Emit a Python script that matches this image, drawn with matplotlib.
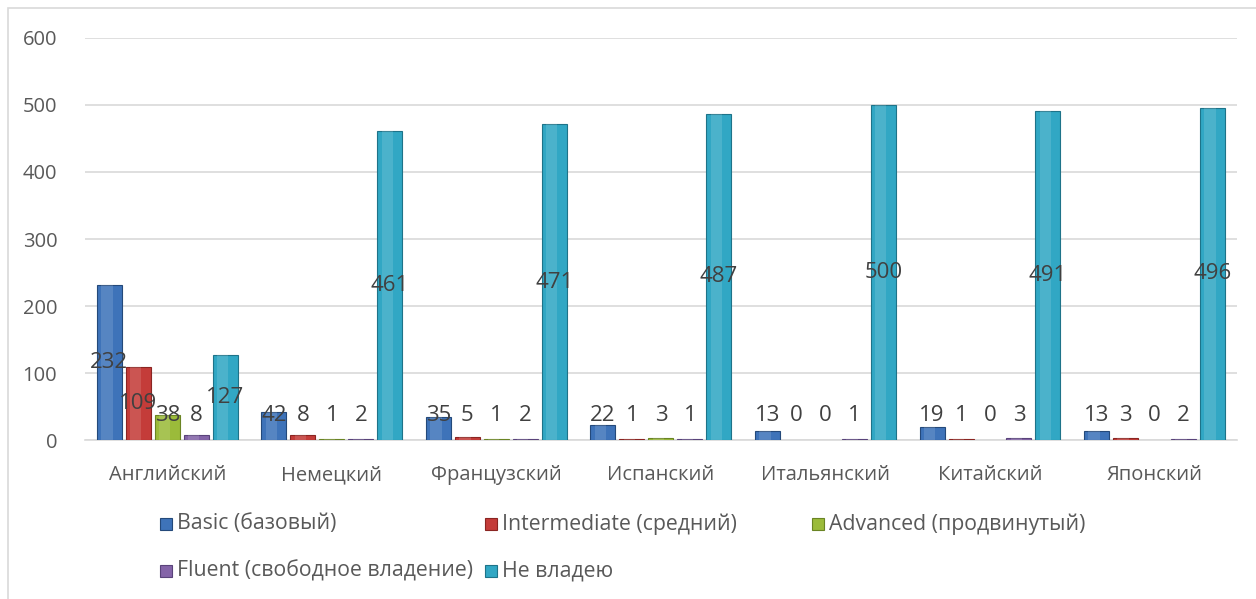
import matplotlib
matplotlib.use("Agg")
import matplotlib.pyplot as plt
import numpy as np
from matplotlib.patches import Rectangle

categories = ["Английский", "Немецкий", "Французский", "Испанский", "Итальянский", "Китайский", "Японский"]
series_names = ["Basic (базовый)", "Intermediate (средний)", "Advanced (продвинутый)",
                "Fluent (свободное владение)", "Не владею"]
basic = [232, 42, 35, 22, 13, 19, 13]
intermediate = [109, 8, 5, 1, 0, 1, 3]
advanced = [38, 1, 1, 3, 0, 0, 0]
fluent = [8, 2, 2, 1, 1, 3, 2]
no_skill = [127, 461, 471, 487, 500, 491, 496]
yticks = [0, 100, 200, 300, 400, 500, 600]

series = [basic, intermediate, advanced, fluent, no_skill]
colors = ["#3E73B9", "#C43C39", "#9BBB3A", "#8464A8", "#31A7C4"]
edges = ["#24497A", "#8A2522", "#6A8424", "#59437A", "#1E7389"]

plt.rcParams['font.family'] = ['Open Sans', 'DejaVu Sans']

W, H = 1256, 599
fig = plt.figure(figsize=(W / 100, H / 100), dpi=100)
ax = fig.add_axes([0.0677, 0.2654, 0.917, 0.6712])

# figure border
fig.patches.append(Rectangle((0.006, -0.01), 0.995, 0.997, transform=fig.transFigure,
                             fill=False, edgecolor="#D9D9D9", linewidth=1.2))

x = np.arange(len(categories))
step = 0.176
width = 0.152
for i, (vals, c, e) in enumerate(zip(series, colors, edges)):
    pos = x + (i - 2) * step
    ecs = [e if v > 0 else "none" for v in vals]
    ax.bar(pos, vals, width=width, color=c, edgecolor=ecs, linewidth=0.8, zorder=3)
    # lighter highlight strip
    ax.bar(pos - width * 0.1, vals, width=width * 0.45, color="white", alpha=0.13,
           linewidth=0, zorder=4)
    for p, v in zip(pos, vals):
        ax.text(p, max(v / 2, 37), str(v), ha="center", va="center",
                fontsize=16, color="#404040", zorder=5)

ax.set_ylim(0, 600)
ax.set_xlim(-0.5, len(categories) - 0.5)
ax.set_yticks(yticks)
ax.set_yticklabels([str(t) for t in yticks], fontsize=14.5, color="#595959")
ax.set_xticks(x)
ax.set_xticklabels(categories, fontsize=14.5, color="#595959")
ax.tick_params(axis="both", length=0)
ax.tick_params(axis="y", pad=20)
ax.tick_params(axis="x", pad=18)
ax.yaxis.grid(True, color="#D9D9D9", linewidth=1.2, zorder=0)
for s in ["top", "right", "left"]:
    ax.spines[s].set_visible(False)
ax.spines["bottom"].set_color("#D9D9D9")
ax.spines["bottom"].set_linewidth(1.2)

# legend laid out in rows like the reference (3 equal columns)
leg_pos = [(160, 524), (485, 524), (812, 524), (160, 571), (485, 571)]
for (px, py), name, c, e in zip(leg_pos, series_names, colors, edges):
    fx, fy = px / W, 1 - py / H
    fig.patches.append(Rectangle((fx, fy - 6 / H), 12 / W, 12 / H, transform=fig.transFigure,
                                 facecolor=c, edgecolor=e, linewidth=0.8))
    fig.text(fx + 17 / W, fy, name, ha="left", va="center", fontsize=15.3, color="#595959")

fig.savefig("out.png", dpi=100)
